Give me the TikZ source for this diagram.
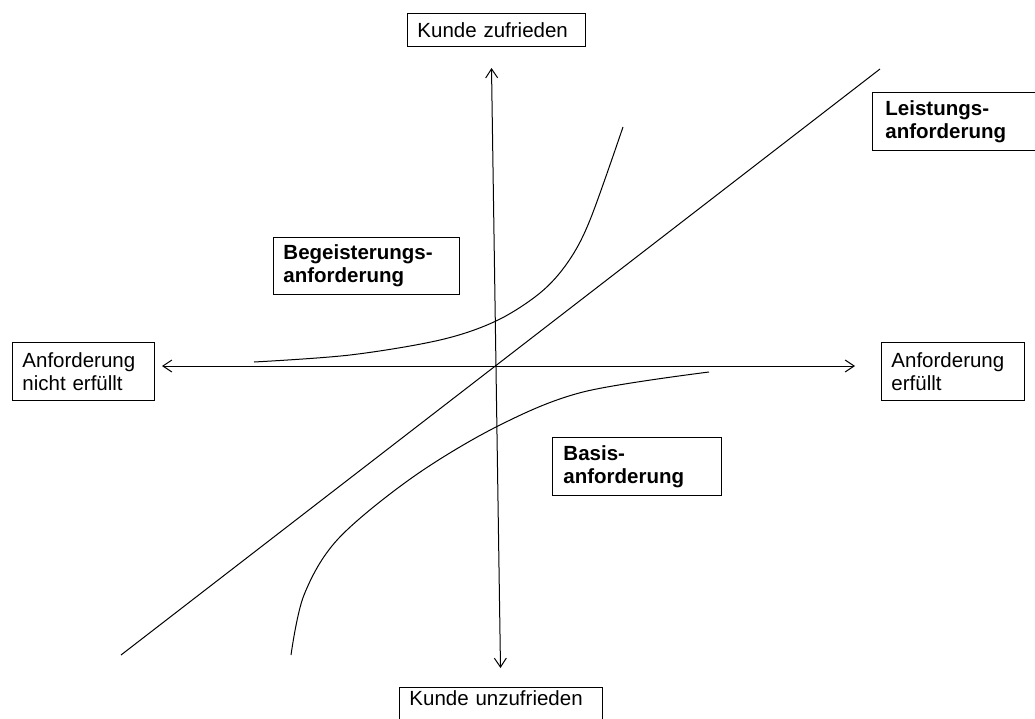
\documentclass[tikz,border=0pt]{standalone}
\usepackage{fontspec}
\setmainfont{Liberation Sans}
\usetikzlibrary{arrows.meta}

\tikzset{
  axis/.style={line width=1pt, {Straight Barb[length=9pt,width=12pt]}-{Straight Barb[length=9pt,width=12pt]}},
  curve/.style={line width=1pt},
  labelbox/.style={draw, line width=0.9pt, anchor=north west, inner xsep=10pt, inner ysep=0pt,
                   align=left, font=\fontsize{20.5}{23}\selectfont},
  kindbox/.style={labelbox, font=\fontsize{20.5}{23}\selectfont\bfseries},
}

\begin{document}
\begin{tikzpicture}[x=1pt,y=-1pt]
  \useasboundingbox (0,0) rectangle (1035,718);
  \clip (0,0) rectangle (1035,718);

  % axis end points
  \coordinate (xL) at (162,366);
  \coordinate (xR) at (855,366);
  \coordinate (yT) at (491.5,68);
  \coordinate (yB) at (500.5,668);
  \coordinate (dL) at (121,655);
  \coordinate (dR) at (880,69);

  % axis labels
  \node[labelbox, minimum width=178pt, minimum height=33pt, text width=158pt] (zuf) at (407,13) {Kunde zufrieden};
  \node[labelbox, anchor=north west, minimum width=203pt, inner ysep=3pt, text depth=40pt, text width=183pt] (unzuf) at (399,687) {Kunde unzufrieden};
  \node[labelbox, minimum width=142pt, minimum height=58pt, text width=122pt] (nerf) at (12,342) {Anforderung\\nicht erfüllt};
  \node[labelbox, minimum width=143pt, minimum height=58pt, text width=123pt] (erf) at (881,342) {Anforderung\\erfüllt};

  % requirement categories
  \node[kindbox, minimum width=186pt, minimum height=57pt, text width=166pt] (beg) at (273,237) {Begeisterungs-\\anforderung};
  \node[kindbox, minimum width=200pt, minimum height=58pt, text width=177pt, inner xsep=13pt] (lei) at (872,92) {Leistungs-\\anforderung};
  \node[kindbox, minimum width=168pt, minimum height=58pt, text width=147pt, inner xsep=11pt] (bas) at (552,437) {Basis-\\anforderung};

  % axes
  \draw[axis] (xL) -- (xR);
  \draw[axis] (yT) -- (yB);

  % performance requirement (linear)
  \draw[curve] (dL) -- (dR);

  % excitement requirement
  \draw[curve] plot[smooth, tension=0.55] coordinates {
    (254,362) (350,355) (440,340) (496,321) (540,293) (568,262) (590,220) (623,127)};

  % basic requirement
  \draw[curve] plot[smooth, tension=0.55] coordinates {
    (291,655) (304,595) (338,539) (413,477) (498,426) (583,392) (709,372)};
\end{tikzpicture}
\end{document}
